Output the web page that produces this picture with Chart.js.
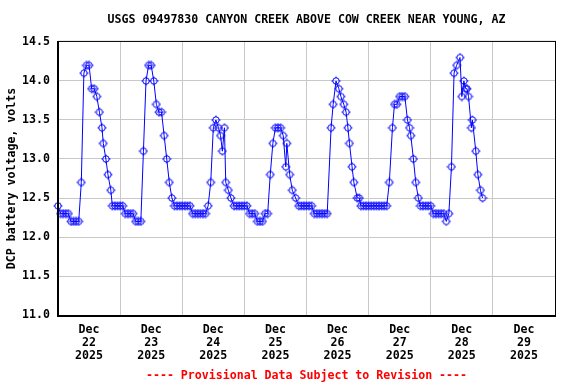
<!DOCTYPE html>
<html><head><meta charset="utf-8">
<script src="https://cdn.jsdelivr.net/npm/chart.js@4/dist/chart.umd.min.js"></script>
<style>html,body{margin:0;padding:0;background:#fff}#wrap{width:576px;height:384px}</style>
</head><body><div id="wrap"><canvas id="c" width="576" height="384"></canvas></div>
<script>
const chartTitle = 'USGS 09497830 CANYON CREEK ABOVE COW CREEK NEAR YOUNG, AZ';
const yAxisTitle = 'DCP battery voltage, volts';
const footerText = '---- Provisional Data Subject to Revision ----';
const tickMonth = 'Dec';
const tickDays = ['22', '23', '24', '25', '26', '27', '28', '29'];
const tickYear = '2025';
const yTicks = [11.0, 11.5, 12.0, 12.5, 13.0, 13.5, 14.0, 14.5];

// hours since Dec 22 2025 00:00
const hours = [
  0,1,2,3,4,5,6,7,8,9,10,11,12,13,14,15,16,17,17.5,18.5,19.3,20.4,21,22,23,
  24,25,26,27,28,29,30,31,32,33,34,35,36,37,38,39,40,41,42,43,44,45,46,47,
  48,49,50,51,52,53,54,55,56,57,58,59,60,61,62,62.8,63.5,64.3,64.8,65.8,66.8,68,69,70,71,
  72,73,74,75,76,77,78,79,80,81,82,83,84,85,86,87,88,88.4,89.5,90.5,91.8,93,94,95,
  96,97,98,99,100,101,102,103,104,105.5,106.3,107.4,108.5,109.3,110.4,111.3,112,112.6,113.6,114.3,115.6,116.4,117,118,119,
  120,121,122,123,124,125,126,127,128,129.2,130,130.9,132,133,134,135,135.8,136.3,137.3,138.2,139.2,140,141,142,143,
  144,145,146,147,148,149,150,151,152,153,154,155.3,156,156.8,157.5,158,158.6,159.7,160.1,161.4,162.2,163.2,164
];
const volts = [
  12.4,12.3,12.3,12.3,12.3,12.2,12.2,12.2,12.2,12.7,14.1,14.2,14.2,13.9,13.9,13.8,13.6,13.4,13.2,13.0,12.8,12.6,12.4,12.4,12.4,
  12.4,12.4,12.3,12.3,12.3,12.3,12.2,12.2,12.2,13.1,14.0,14.2,14.2,14.0,13.7,13.6,13.6,13.3,13.0,12.7,12.5,12.4,12.4,12.4,
  12.4,12.4,12.4,12.4,12.3,12.3,12.3,12.3,12.3,12.3,12.4,12.7,13.4,13.5,13.4,13.3,13.1,13.4,12.7,12.6,12.5,12.4,12.4,12.4,12.4,
  12.4,12.4,12.3,12.3,12.3,12.2,12.2,12.2,12.3,12.3,12.8,13.2,13.4,13.4,13.4,13.3,12.9,13.2,12.8,12.6,12.5,12.4,12.4,12.4,
  12.4,12.4,12.4,12.3,12.3,12.3,12.3,12.3,12.3,13.4,13.7,14.0,13.9,13.8,13.7,13.6,13.4,13.2,12.9,12.7,12.5,12.5,12.4,12.4,12.4,
  12.4,12.4,12.4,12.4,12.4,12.4,12.4,12.4,12.7,13.4,13.7,13.7,13.8,13.8,13.8,13.5,13.4,13.3,13.0,12.7,12.5,12.4,12.4,12.4,12.4,
  12.4,12.3,12.3,12.3,12.3,12.3,12.2,12.3,12.9,14.1,14.2,14.3,13.8,14.0,13.9,13.9,13.8,13.4,13.5,13.1,12.8,12.6,12.5
];

const FONT = 'DejaVu Sans Mono';
const points = hours.map((h, i) => ({ x: h, y: volts[i] }));

// marker: open circle with small cross stubs
const marker = document.createElement('canvas');
marker.width = 10; marker.height = 10;
(() => {
  const m = marker.getContext('2d');
  m.strokeStyle = '#0000ff';
  m.lineWidth = 1;
  m.beginPath(); m.arc(5, 5, 3.2, 0, Math.PI * 2); m.stroke();
  m.beginPath();
  m.moveTo(5, 0.5); m.lineTo(5, 2);
  m.moveTo(5, 8); m.lineTo(5, 9.5);
  m.moveTo(0.5, 5); m.lineTo(2, 5);
  m.moveTo(8, 5); m.lineTo(9.5, 5);
  m.stroke();
})();

const frame = {
  id: 'frame',
  afterDraw(chart) {
    const { ctx, chartArea: a } = chart;
    ctx.save();
    ctx.strokeStyle = '#000';
    ctx.lineWidth = 1;
    ctx.strokeRect(a.left + 0.5, a.top - 0.5, a.right - a.left, a.bottom - a.top + 1);
    ctx.lineWidth = 2;
    ctx.beginPath();
    ctx.moveTo(a.left, a.bottom + 1); ctx.lineTo(a.right + 1, a.bottom + 1);
    ctx.moveTo(a.left, a.top - 1); ctx.lineTo(a.left, a.bottom + 2);
    ctx.stroke();
    ctx.restore();
  }
};

new Chart(document.getElementById('c'), {
  type: 'line',
  data: {
    datasets: [{
      data: points,
      borderColor: '#0000ff',
      borderWidth: 1,
      pointStyle: marker,
      pointRadius: 3,
      tension: 0,
      clip: false
    }]
  },
  options: {
    responsive: false,
    devicePixelRatio: 1,
    animation: false,
    layout: { padding: { left: 0, right: 21, top: 0, bottom: 0 } },
    plugins: {
      legend: { display: false },
      tooltip: { enabled: false },
      title: {
        display: true, text: chartTitle, fullSize: false, color: '#000',
        font: { family: FONT, weight: 'bold', size: 11.6 },
        padding: { top: 13, bottom: 15 }
      },
      subtitle: {
        display: true, text: footerText, position: 'bottom', fullSize: false, color: '#ff0000',
        font: { family: FONT, weight: 'bold', size: 11.6 },
        padding: { top: 5, bottom: 1 }
      }
    },
    scales: {
      x: {
        type: 'linear', min: 0, max: 192,
        afterBuildTicks: (s) => { s.ticks = Array.from({ length: 17 }, (_, i) => ({ value: i * 12 })); },
        afterFit: (s) => { s.height = 49; },
        grid: {
          drawTicks: false,
          color: (c) => (c.tick && c.tick.value % 24 === 0) ? '#c8c8c8' : 'rgba(0,0,0,0)'
        },
        border: { display: false },
        ticks: {
          autoSkip: false, maxRotation: 0, minRotation: 0, padding: 8.5, color: '#000',
          font: { family: FONT, weight: 'bold', size: 11.6, lineHeight: '13px' },
          callback: (v) => (v % 24 === 12) ? [tickMonth, tickDays[(v - 12) / 24], tickYear] : ''
        }
      },
      y: {
        min: 11, max: 14.5,
        afterBuildTicks: (s) => { s.ticks = yTicks.map(v => ({ value: v })); },
        afterFit: (s) => { s.width = 58; },
        grid: { drawTicks: false, color: '#c8c8c8' },
        border: { display: false },
        title: {
          display: true, text: yAxisTitle, color: '#000',
          font: { family: FONT, weight: 'bold', size: 11.6 },
          padding: { top: 5, bottom: 0 }
        },
        ticks: {
          padding: 8, color: '#000',
          font: { family: FONT, weight: 'bold', size: 11.6 },
          callback: (v) => Number(v).toFixed(1)
        }
      }
    }
  },
  plugins: [frame]
});
</script>
</body></html>
